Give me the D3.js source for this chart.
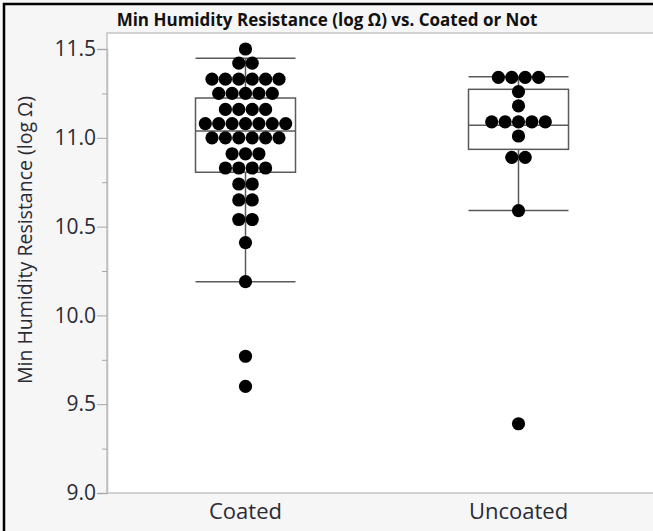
<!DOCTYPE html>
<meta charset="utf-8">
<title>Min Humidity Resistance vs. Coated or Not</title>
<script src="https://cdn.jsdelivr.net/npm/d3@7"></script>
<style>
  body { margin: 0; background: #fff; }
  text { font-family: "Open Sans", "Noto Sans", sans-serif; }
</style>
<body>
<script>

// groups on the x axis
var groups = ["Coated", "Uncoated"];

// values (log ohm)
var coated = [
  11.50,
  11.42, 11.42,
  11.33, 11.33, 11.33, 11.33, 11.33, 11.33,
  11.25, 11.25, 11.25, 11.25, 11.25,
  11.16, 11.16, 11.16, 11.16,
  11.08, 11.08, 11.08, 11.08, 11.08, 11.08, 11.08,
  11.00, 11.00, 11.00, 11.00, 11.00, 11.00,
  10.91, 10.91, 10.91,
  10.83, 10.83, 10.83, 10.83,
  10.74, 10.74,
  10.65, 10.65,
  10.54, 10.54,
  10.41,
  10.19,
  9.77,
  9.60
];
var uncoated = [
  11.34, 11.34, 11.34, 11.34,
  11.26,
  11.18,
  11.09, 11.09, 11.09, 11.09, 11.09,
  11.01,
  10.89, 10.89,
  10.59,
  9.39
];

// box stats as drawn: [low whisker, q1, median, q3, high whisker]
var coatedBox   = [10.19, 10.806, 11.038, 11.224, 11.448];
var uncoatedBox = [10.59, 10.935, 11.07, 11.273, 11.344];

var yTicks = [9.0, 9.5, 10.0, 10.5, 11.0, 11.5];
var yMinor = [9.25, 9.75, 10.25, 10.75, 11.25];

var title = "Min Humidity Resistance (log \u03A9) vs. Coated or Not";
var yTitle = "Min Humidity Resistance (log \u03A9)";

var W = 653, H = 531;
var plot = {left: 107, top: 33, right: 653, bottom: 493};

var svg = d3.select("body").append("svg")
    .attr("width", W)
    .attr("height", H);

svg.append("rect")
    .attr("width", W).attr("height", H)
    .attr("fill", "#f6f6f6");

var y = d3.scaleLinear()
    .domain([9.0, 11.5])
    .range([plot.bottom, 49]);

var x = d3.scaleBand()
    .domain(groups)
    .range([109, 655]);

// plot frame (runs off the right edge)
svg.append("rect")
    .attr("x", plot.left)
    .attr("y", plot.top)
    .attr("width", plot.right - plot.left + 10)
    .attr("height", plot.bottom - plot.top)
    .attr("fill", "#fff")
    .attr("stroke", "#c4c4c4")
    .attr("stroke-width", 1.5);

// y axis
var yAxis = svg.append("g")
    .attr("transform", "translate(" + plot.left + ",0)")
    .call(d3.axisLeft(y).tickValues(yTicks).tickFormat(d3.format(".1f")).tickSize(10).tickPadding(1));
yAxis.select(".domain").attr("stroke", "#bdbdbd").attr("stroke-width", 1.5);
yAxis.selectAll(".tick line").attr("stroke", "#a8a8a8");
yAxis.selectAll(".tick text")
    .attr("fill", "#2a2a35")
    .style("font-size", "21px");

var yMinorAxis = svg.append("g")
    .attr("transform", "translate(" + plot.left + ",0)")
    .call(d3.axisLeft(y).tickValues(yMinor).tickFormat("").tickSize(5));
yMinorAxis.select(".domain").remove();
yMinorAxis.selectAll(".tick line").attr("stroke", "#a8a8a8");

// y title
svg.append("text")
    .attr("transform", "translate(32,240) rotate(-90)")
    .attr("text-anchor", "middle")
    .attr("fill", "#2a2a35")
    .style("font-size", "19.5px")
    .text(yTitle);

// x labels
svg.append("g").selectAll("text")
  .data(groups)
  .join("text")
    .attr("x", function(d) { return x(d) + x.bandwidth() / 2; })
    .attr("y", 519)
    .attr("text-anchor", "middle")
    .attr("fill", "#2a2a35")
    .style("font-size", "22px")
    .text(function(d) { return d; });

// title
svg.append("text")
    .attr("x", 327)
    .attr("y", 26)
    .attr("text-anchor", "middle")
    .attr("fill", "#111")
    .style("font-size", "17px")
    .style("font-weight", "bold")
    .text(title);

// boxes
var boxW = 100;
var boxes = [{g: "Coated", s: coatedBox}, {g: "Uncoated", s: uncoatedBox}];
boxes.forEach(function(b) {
  var cx = x(b.g) + x.bandwidth() / 2, s = b.s;
  var g = svg.append("g")
      .attr("fill", "none")
      .attr("stroke", "#5a5a5a")
      .attr("stroke-width", 1.5);
  g.append("line").attr("x1", cx).attr("x2", cx).attr("y1", y(s[0])).attr("y2", y(s[1]));
  g.append("line").attr("x1", cx).attr("x2", cx).attr("y1", y(s[3])).attr("y2", y(s[4]));
  g.append("line").attr("x1", cx - boxW / 2).attr("x2", cx + boxW / 2).attr("y1", y(s[0])).attr("y2", y(s[0]));
  g.append("line").attr("x1", cx - boxW / 2).attr("x2", cx + boxW / 2).attr("y1", y(s[4])).attr("y2", y(s[4]));
  g.append("rect")
      .attr("x", cx - boxW / 2).attr("width", boxW)
      .attr("y", y(s[3])).attr("height", y(s[1]) - y(s[3]));
  g.append("line").attr("x1", cx - boxW / 2).attr("x2", cx + boxW / 2).attr("y1", y(s[2])).attr("y2", y(s[2]));
});

// dots, stacked side by side when values share a row
var step = 13.4, r = 6.6;
function swarm(values, g) {
  var cx = x(g) + x.bandwidth() / 2;
  var out = [];
  d3.group(values, function(v) { return v; }).forEach(function(row, v) {
    row.forEach(function(_, i) {
      out.push({x: cx + (i - (row.length - 1) / 2) * step, y: y(v)});
    });
  });
  return out;
}
var dots = swarm(coated, "Coated").concat(swarm(uncoated, "Uncoated"));
svg.append("g").selectAll("circle")
  .data(dots)
  .join("circle")
    .attr("cx", function(d) { return d.x; })
    .attr("cy", function(d) { return d.y; })
    .attr("r", r)
    .attr("fill", "#000");

// black frame on top and left
svg.append("path")
    .attr("d", "M4," + H + "V4H" + W)
    .attr("fill", "none")
    .attr("stroke", "#000")
    .attr("stroke-width", 2.5);

</script>
